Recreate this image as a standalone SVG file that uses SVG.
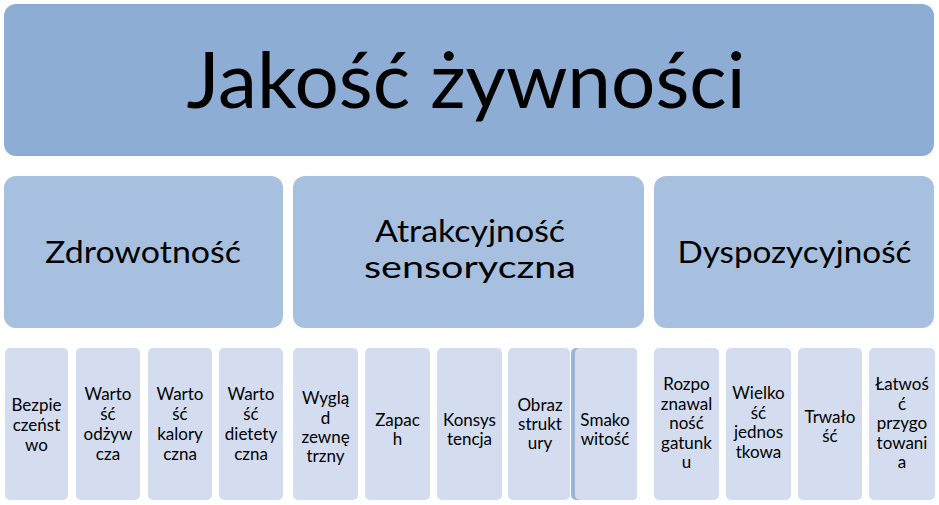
<svg xmlns="http://www.w3.org/2000/svg" width="939" height="505" viewBox="0 0 939 505">
<style>
.top{fill:#8EADD5}
.mid{fill:#A8C0DF}
.bot{fill:#D3DDEF}
.edge{fill:#9AB5DA}
text{font-family:Lato,"Open Sans","Liberation Sans",sans-serif;fill:#000;text-anchor:middle}
.t1{font-size:78px}
.t2{font-size:30px}
.t3{font-size:17px}
</style>
<rect width="939" height="505" fill="#FFFFFF"/>
<g id="connectors"></g>
<g id="root">
<rect class="top" x="4" y="4" width="930" height="152" rx="12"/>
<text class="t1" x="466" y="108" textLength="559" lengthAdjust="spacingAndGlyphs">Jakość żywności</text>
</g>
<g id="zdrowotnosc">
<rect class="mid" x="4" y="176" width="279" height="152" rx="12"/>
<text class="t2" x="143" y="263" textLength="196" lengthAdjust="spacingAndGlyphs">Zdrowotność</text>
</g>
<g id="atrakcyjnosc">
<rect class="mid" x="293" y="176" width="351" height="152" rx="12"/>
<text class="t2" x="470" y="242" textLength="190" lengthAdjust="spacingAndGlyphs">Atrakcyjność</text>
<text class="t2" x="470" y="278" textLength="212" lengthAdjust="spacingAndGlyphs">sensoryczna</text>
</g>
<g id="dyspozycyjnosc">
<rect class="mid" x="654" y="176" width="280" height="152" rx="12"/>
<text class="t2" x="794.5" y="263" textLength="234" lengthAdjust="spacingAndGlyphs">Dyspozycyjność</text>
</g>
<g id="b1">
<rect class="bot" x="5" y="348" width="63" height="152" rx="5"/>
<text class="t3" x="36.5" y="411">Bezpie</text>
<text class="t3" x="36.5" y="431">czeńst</text>
<text class="t3" x="36.5" y="451">wo</text>
</g>
<g id="b2">
<rect class="bot" x="76" y="348" width="64" height="152" rx="5"/>
<text class="t3" x="108" y="400">Warto</text>
<text class="t3" x="108" y="420">ść</text>
<text class="t3" x="108" y="440">odżyw</text>
<text class="t3" x="108" y="460">cza</text>
</g>
<g id="b3">
<rect class="bot" x="148" y="348" width="64" height="152" rx="5"/>
<text class="t3" x="180" y="400">Warto</text>
<text class="t3" x="180" y="420">ść</text>
<text class="t3" x="180" y="440">kalory</text>
<text class="t3" x="180" y="460">czna</text>
</g>
<g id="b4">
<rect class="bot" x="219" y="348" width="64" height="152" rx="5"/>
<text class="t3" x="251" y="400">Warto</text>
<text class="t3" x="251" y="420">ść</text>
<text class="t3" x="251" y="440">dietety</text>
<text class="t3" x="251" y="460">czna</text>
</g>
<g id="b5">
<rect class="bot" x="293" y="348" width="65" height="152" rx="5"/>
<text class="t3" x="325.5" y="404">Wyglą</text>
<text class="t3" x="325.5" y="424">d</text>
<text class="t3" x="325.5" y="443">zewnę</text>
<text class="t3" x="325.5" y="462">trzny</text>
</g>
<g id="b6">
<rect class="bot" x="365" y="348" width="65" height="152" rx="5"/>
<text class="t3" x="397.5" y="426">Zapac</text>
<text class="t3" x="397.5" y="445">h</text>
</g>
<g id="b7">
<rect class="bot" x="437" y="348" width="65" height="152" rx="5"/>
<text class="t3" x="469.5" y="426">Konsys</text>
<text class="t3" x="469.5" y="445">tencja</text>
</g>
<g id="b8">
<rect class="bot" x="508" y="348" width="62" height="152" rx="5"/>
<text class="t3" x="540" y="411">Obraz</text>
<text class="t3" x="540" y="430">strukt</text>
<text class="t3" x="540" y="449">ury</text>
</g>
<g id="b9">
<rect class="edge" x="571" y="348" width="66" height="152" rx="5"/>
<rect class="bot" x="575" y="348" width="62" height="152" rx="5"/>
<text class="t3" x="605" y="426">Smako</text>
<text class="t3" x="605" y="445">witość</text>
</g>
<g id="b10">
<rect class="bot" x="654" y="348" width="65" height="152" rx="5"/>
<text class="t3" x="686.5" y="390">Rozpo</text>
<text class="t3" x="686.5" y="409.5">znawal</text>
<text class="t3" x="686.5" y="429">ność</text>
<text class="t3" x="686.5" y="448.5">gatunk</text>
<text class="t3" x="686.5" y="468">u</text>
</g>
<g id="b11">
<rect class="bot" x="726" y="348" width="65" height="152" rx="5"/>
<text class="t3" x="758.5" y="399">Wielko</text>
<text class="t3" x="758.5" y="418.5">ść</text>
<text class="t3" x="758.5" y="438">jednos</text>
<text class="t3" x="758.5" y="457.5">tkowa</text>
</g>
<g id="b12">
<rect class="bot" x="798" y="348" width="64" height="152" rx="5"/>
<text class="t3" x="830" y="423">Trwało</text>
<text class="t3" x="830" y="442">ść</text>
</g>
<g id="b13">
<rect class="bot" x="869" y="348" width="66" height="152" rx="5"/>
<text class="t3" x="902" y="390">Łatwoś</text>
<text class="t3" x="902" y="409.5">ć</text>
<text class="t3" x="902" y="429">przygo</text>
<text class="t3" x="902" y="448.5">towani</text>
<text class="t3" x="902" y="468">a</text>
</g>
</svg>
